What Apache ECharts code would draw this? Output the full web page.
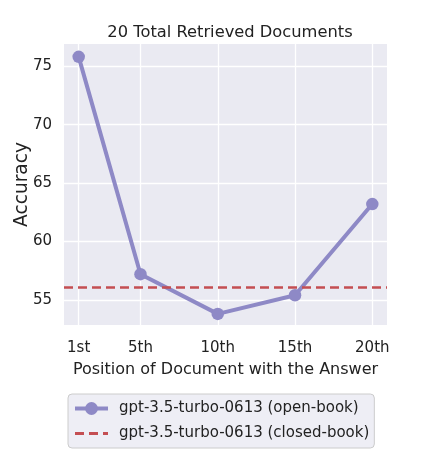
<!DOCTYPE html>
<html><head><meta charset="utf-8">
<script src="https://cdn.jsdelivr.net/npm/echarts@6/dist/echarts.min.js"></script>
<style>html,body{margin:0;padding:0;background:#fff}#c{width:432px;height:463px}</style>
</head><body><div id="c"></div>
<script>
const positions = [1, 5, 10, 15, 20];
const tickLabels = ['1st', '5th', '10th', '15th', '20th'];
const openBook = [75.8, 57.2, 53.8, 55.4, 63.2];
const closedBook = 56.1;
const yTicks = [55, 60, 65, 70, 75];

const font = 'DejaVu Sans';
const chart = echarts.init(document.getElementById('c'), null, {renderer: 'canvas'});
const labelMap = {};
positions.forEach((p, i) => labelMap[p] = tickLabels[i]);

chart.setOption({
  animation: false,
  backgroundColor: '#ffffff',
  title: {
    text: '20 Total Retrieved Documents',
    left: 225, top: 20, textAlign: 'center',
    textStyle: {fontFamily: font, fontSize: 16.3, fontWeight: 'normal', color: '#222'}
  },
  grid: {left: 64, right: 45, top: 44, bottom: 138, backgroundColor: '#EAEAF2', show: true, borderWidth: 0,
         containLabel: false, outerBoundsMode: 'none'},
  xAxis: {
    type: 'value', min: 0.05, max: 20.95,
    name: 'Position of Document with the Answer', nameLocation: 'middle', nameGap: 37, nameMoveOverlap: false,
    nameTextStyle: {fontFamily: font, fontSize: 16, color: '#222'},
    axisLine: {show: false}, axisTick: {show: false, customValues: positions},
    axisLabel: {customValues: positions, formatter: v => labelMap[v] || '', fontFamily: font, fontSize: 15, color: '#222', margin: 16},
    splitLine: {show: true, lineStyle: {color: '#ffffff', width: 1.3}}
  },
  yAxis: {
    type: 'value', min: 52.85, max: 76.9,
    name: 'Accuracy', nameLocation: 'middle', nameGap: 32, nameMoveOverlap: false,
    nameTextStyle: {fontFamily: font, fontSize: 18.6, color: '#222'},
    axisLine: {show: false}, axisTick: {show: false, customValues: yTicks},
    axisLabel: {customValues: yTicks, fontFamily: font, fontSize: 15, color: '#222', margin: 12},
    splitLine: {show: true, lineStyle: {color: '#ffffff', width: 1.3}}
  },
  legend: {
    orient: 'vertical', left: 68, top: 394,
    padding: [7, 5, 7, 5], itemGap: 10, itemWidth: 33, itemHeight: 16,
    backgroundColor: 'rgba(234,234,242,0.8)', borderColor: '#cccccc', borderWidth: 1, borderRadius: 4,
    textStyle: {fontFamily: font, fontSize: 15, color: '#222', padding: [0, 0, 0, 6]},
    data: [
      {name: 'gpt-3.5-turbo-0613 (open-book)', lineStyle: {width: 4}},
      {name: 'gpt-3.5-turbo-0613 (closed-book)', itemStyle: {opacity: 0}, lineStyle: {width: 3}}
    ]
  },
  series: [
    {
      name: 'gpt-3.5-turbo-0613 (open-book)', type: 'line',
      data: positions.map((p, i) => [p, openBook[i]]),
      symbol: 'circle', symbolSize: 12.5,
      lineStyle: {color: '#8e89c6', width: 4},
      itemStyle: {color: '#8e89c6'}, z: 3
    },
    {
      name: 'gpt-3.5-turbo-0613 (closed-book)', type: 'line', data: [],
      symbol: 'none',
      lineStyle: {color: '#c44e52', width: 2.7, type: [9, 5]},
      itemStyle: {color: '#c44e52'},
      markLine: {
        silent: true, symbol: 'none', label: {show: false},
        lineStyle: {color: '#c44e52', width: 2.7, type: [9, 5]},
        data: [{yAxis: closedBook}]
      }, z: 2
    }
  ]
});
</script></body></html>
